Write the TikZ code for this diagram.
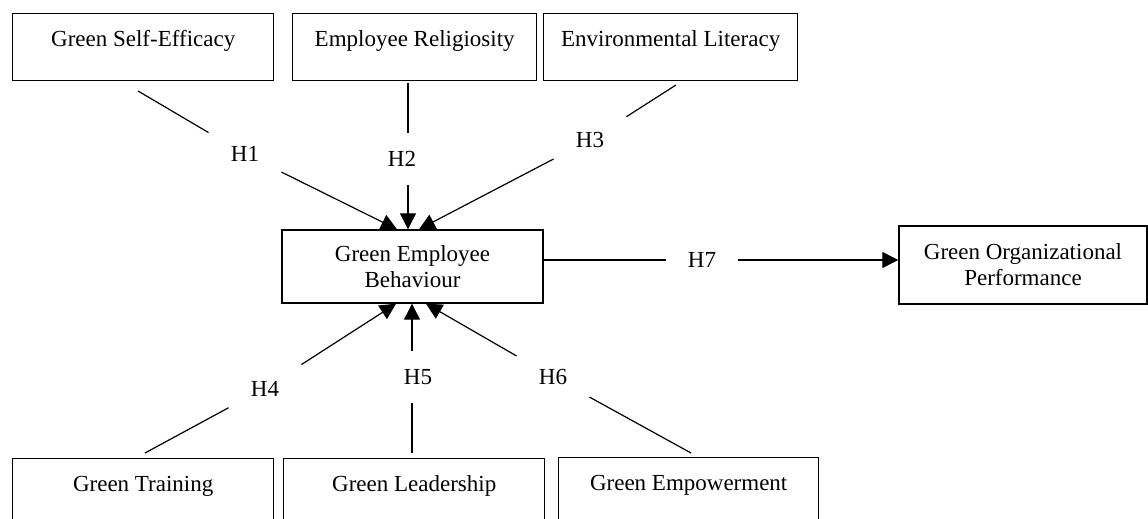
\documentclass[tikz,border=0pt]{standalone}
\usepackage{fontspec}
\setmainfont{Liberation Serif}
\usetikzlibrary{arrows.meta}

\begin{document}
\begin{tikzpicture}[x=0.5pt,y=-0.5pt,
    font=\fontsize{11.5}{13}\selectfont,
    box/.style={draw,line width=0.7pt,rectangle,align=center,inner sep=0pt},
    topbox/.style={box,anchor=north west,minimum height=33.5pt,
      text height=16.5pt,text depth=17pt},
    hyp/.style={inner xsep=11pt,inner ysep=9pt,text height=8pt,text depth=0pt},
    link/.style={line width=0.6pt},
    arr/.style={link,-{Triangle[length=8pt,width=8pt]}}]
  \clip (0,0) rectangle (1148,519);

  % antecedents above
  \node[topbox,minimum width=130.5pt] (se) at (12,13) {Green Self-Efficacy};
  \node[topbox,minimum width=122pt] (er) at (292,13) {Employee Religiosity};
  \node[topbox,minimum width=127pt] (el) at (543,13) {Environmental Literacy};
  % antecedents below
  \node[topbox,minimum width=130.5pt] (gt) at (12,458) {Green Training};
  \node[topbox,minimum width=130.5pt] (gl) at (283,458) {Green Leadership};
  \node[topbox,minimum width=130pt] (gem) at (558,457) {Green Empowerment};
  % mediator and outcome
  \node[box,minimum width=130.5pt,minimum height=36.5pt] (geb)
    at (412.5,266.5) {Green Employee\\Behaviour};
  \node[box,minimum width=124pt,minimum height=39pt] (gop)
    at (1023,265) {Green Organizational\\Performance};

  % loose ends of the paths
  \coordinate (se-out) at (138,91);
  \coordinate (er-out) at (408,83);
  \coordinate (el-out) at (676,85);
  \coordinate (gt-out) at (145,453);
  \coordinate (gl-out) at (412,453);
  \coordinate (gem-out) at (691,453);

  % hypotheses
  \node[hyp] (h1) at (245,154) {H1};
  \node[hyp] (h2) at (402,159) {H2};
  \node[hyp] (h3) at (590,140) {H3};
  \node[hyp] (h4) at (265,388) {H4};
  \node[hyp] (h5) at (418,377) {H5};
  \node[hyp] (h6) at (553,377) {H6};
  \node[hyp] (h7) at (702,260) {H7};

  \draw[link] (se-out) -- (h1);
  \draw[arr] (h1) -- ([xshift=-7.75pt]geb.north);
  \draw[link] (er-out) -- (er-out |- h2.north);
  \draw[arr] (er-out |- h2.south) -- (er-out |- geb.north);
  \draw[link] (el-out) -- (h3);
  \draw[arr] (h3) -- ([xshift=3.25pt]geb.north);

  \draw[link] (gt-out) -- (h4);
  \draw[arr] (h4) -- ([xshift=-8.25pt]geb.south);
  \draw[link] (gl-out) -- (gl-out |- h5.south);
  \draw[arr] (gl-out |- h5.north) -- (gl-out |- geb.south);
  \draw[link] (gem-out) -- (h6);
  \draw[arr] (h6) -- ([xshift=6.75pt]geb.south);

  \draw[link] (geb.east |- h7) -- (h7);
  \draw[arr] (h7) -- (gop.west |- h7);
\end{tikzpicture}
\end{document}
